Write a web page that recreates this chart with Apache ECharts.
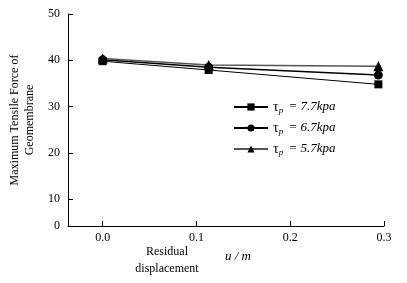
<!DOCTYPE html>
<html>
<head>
<meta charset="utf-8">
<script src="https://cdn.jsdelivr.net/npm/echarts@6/dist/echarts.min.js"></script>
<style>
  html, body { margin: 0; padding: 0; background: #fff; }
  #chart { width: 407px; height: 283px; }
</style>
</head>
<body>
<div id="chart"></div>
<script>
// residual displacement u (m)
var xValues = [0, 0.113, 0.294];
// maximum tensile force for each tau_p
var force77 = [39.8, 37.9, 34.8];
var force67 = [40.1, 38.5, 36.8];
var force57 = [40.4, 39.0, 38.7];
var seriesNames = ["7.7", "6.7", "5.7"];
var xTicks = [0, 0.1, 0.2, 0.3];
var yTicks = [4.2, 10, 20, 30, 40, 50];
var yTickLabels = ["0", "10", "20", "30", "40", "50"];

var serif = "Liberation Serif";

function pairs(ys) {
  return ys.map(function (y, i) { return [xValues[i], y]; });
}

var myChart = echarts.init(document.getElementById("chart"));
var option = {
  backgroundColor: "#fff",
  animation: false,
  grid: { left: 68, right: 23, top: 14, bottom: 57, containLabel: false, outerBoundsMode: "none" },
  legend: {
    orient: "vertical",
    left: 233,
    top: 100,
    padding: 0,
    itemWidth: 34,
    itemHeight: 9,
    itemGap: 6,
    data: seriesNames,
    formatter: function (name) {
      return "{t|τ}{s|p}{i| = " + name + "kpa}";
    },
    textStyle: {
      color: "#000",
      rich: {
        t: { fontFamily: serif, fontSize: 14, color: "#000" },
        s: { fontFamily: serif, fontSize: 9, fontStyle: "italic", color: "#000", padding: [7, 2, 0, 0] },
        i: { fontFamily: serif, fontSize: 13, fontStyle: "italic", color: "#000" }
      }
    }
  },
  xAxis: {
    type: "value",
    min: -0.037,
    max: 0.3,
    axisLine: { onZero: false, lineStyle: { color: "#000", width: 1 } },
    axisTick: { inside: true, length: 5, lineStyle: { color: "#000" }, customValues: xTicks },
    axisLabel: {
      customValues: xTicks,
      color: "#000",
      fontFamily: serif,
      fontSize: 12,
      margin: 6,
      formatter: function (v) { return v.toFixed(1); }
    },
    splitLine: { show: false }
  },
  yAxis: {
    type: "value",
    min: 4.2,
    max: 50,
    name: "Maximum Tensile Force of\nGeomembrane",
    nameLocation: "middle",
    nameGap: 30,
    nameTextStyle: { color: "#000", fontFamily: serif, fontSize: 12, lineHeight: 15 },
    axisLine: { show: true, onZero: false, lineStyle: { color: "#000", width: 1 } },
    axisTick: { inside: true, length: 5, lineStyle: { color: "#000" }, customValues: yTicks.slice(1) },
    axisLabel: {
      customValues: yTicks,
      color: "#000",
      fontFamily: serif,
      fontSize: 12,
      margin: 8,
      formatter: function (v) {
        var i = yTicks.indexOf(v);
        return i >= 0 ? yTickLabels[i] : "";
      }
    },
    splitLine: { show: false }
  },
  graphic: [
    {
      type: "text",
      x: 167,
      y: 243,
      style: {
        text: "Residual\ndisplacement",
        fill: "#000",
        font: "12px " + serif,
        align: "center",
        lineHeight: 17
      }
    },
    {
      type: "text",
      x: 225,
      y: 250,
      style: { text: "u / m", fill: "#000", font: "italic 13px " + serif }
    }
  ],
  series: [
    {
      name: seriesNames[0],
      type: "line",
      data: pairs(force77),
      symbol: "rect",
      symbolSize: 8,
      itemStyle: { color: "#000" },
      lineStyle: { color: "#000", width: 1 }
    },
    {
      name: seriesNames[1],
      type: "line",
      data: pairs(force67),
      symbol: "circle",
      symbolSize: 9,
      itemStyle: { color: "#000" },
      lineStyle: { color: "#000", width: 1.5 }
    },
    {
      name: seriesNames[2],
      type: "line",
      data: pairs(force57),
      symbol: "triangle",
      symbolSize: 10,
      itemStyle: { color: "#000" },
      lineStyle: { color: "#555", width: 1.5 }
    }
  ]
};
myChart.setOption(option);
</script>
</body>
</html>
